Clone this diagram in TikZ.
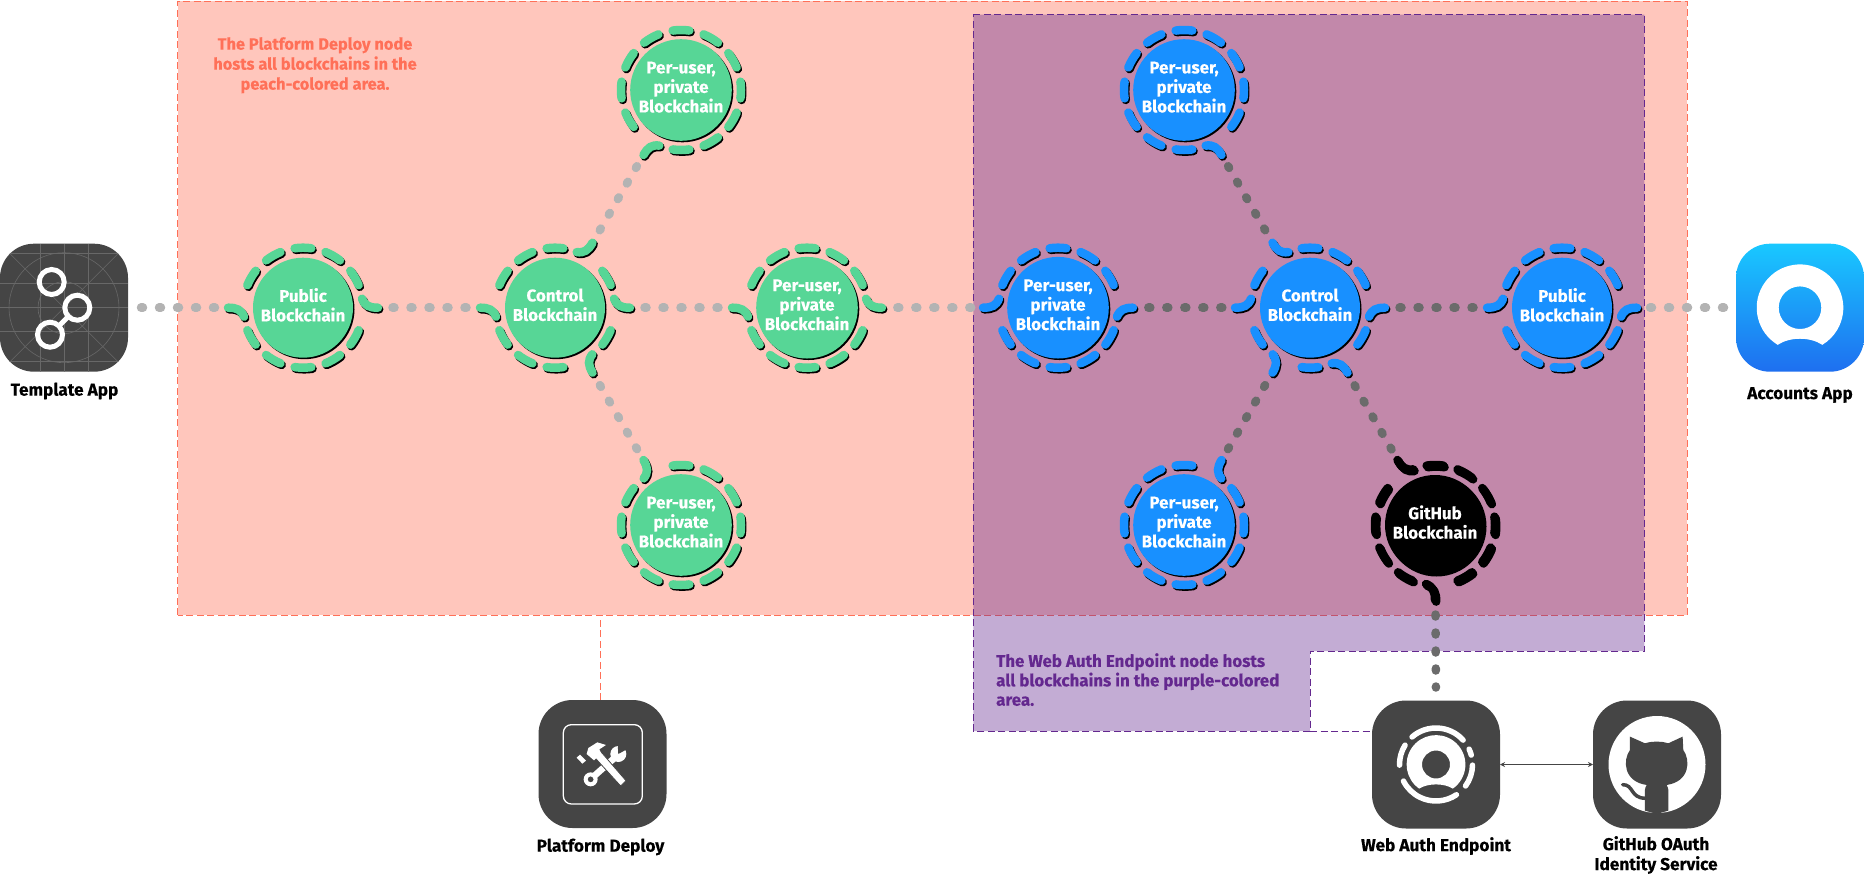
\documentclass[tikz,border=0pt]{standalone}
\usepackage{fontspec}
\setmainfont{Fira Sans}[BoldFont={Fira Sans Bold},BoldFeatures={FakeBold=0.3}]
\usetikzlibrary{shadows,arrows.meta}
\definecolor{peachc}{HTML}{FF7058}
\definecolor{purplec}{HTML}{64288F}
\definecolor{greenc}{HTML}{57D696}
\definecolor{bluec}{HTML}{1890FF}
\definecolor{iconc}{HTML}{454545}
\definecolor{lightdot}{HTML}{B3B3B3}
\definecolor{darkdot}{HTML}{6B6B6B}
\definecolor{gridc}{HTML}{686868}
\definecolor{accttop}{HTML}{19C8FF}
\definecolor{acctbot}{HTML}{1E6FF0}
\newcommand{\lblfont}{\bfseries\fontsize{17.2}{20}\selectfont}
\tikzset{
 chain/.style={circle,inner sep=0pt,outer sep=0pt,minimum size=100pt,text=white,align=center,
   text depth=6pt,
   font=\bfseries\fontsize{17}{19.5}\selectfont,
   drop shadow={shadow xshift=1.5pt,shadow yshift=-1.5pt,fill=black,opacity=1}},
 greenchain/.style={chain,fill=greenc},
 bluechain/.style={chain,fill=bluec},
 blackchain/.style={chain,fill=black},
 ringline/.style={line width=8.5pt,line cap=round},
 dotlink/.style={line width=8.5pt,line cap=round,dash pattern=on 2pt off 16pt,shorten <=39.5pt,shorten >=36pt},
 lightlink/.style={dotlink,draw=lightdot},
 darklink/.style={dotlink,draw=darkdot},
 appicon/.style={inner sep=0pt,outer sep=0pt,minimum size=128pt,rounded corners=34pt,fill=iconc},
 lbl/.style={font=\lblfont,align=center,text=black,inner sep=0pt},
 note/.style={font=\lblfont,inner sep=0pt},
 dashline/.style={line width=1pt,dash pattern=on 7pt off 3.5pt},
 gridline/.style={draw=gridc,line width=0.6pt},
}
\newcommand{\ringdash}[3]{%
 \begin{scope}[shift={(#1.center)}]
 \foreach \a in {#3}{
  \draw[ringline,black,xshift=1.2pt,yshift=-1.6pt] (\a-8:60pt) arc[start angle=\a-8,end angle=\a+8,radius=60pt];
  \draw[ringline,#2] (\a-8:60pt) arc[start angle=\a-8,end angle=\a+8,radius=60pt];
 }
 \end{scope}}
\newcommand{\ringhook}[4]{%
 \begin{scope}[shift={(#1.center)}]
 \foreach \a in {#4}{
  \draw[ringline,black,xshift=1.2pt,yshift=-1.6pt,rotate=\a] (59pt,{#3*9pt}) .. controls (62pt,{#3*2pt}) and (66pt,0pt) .. (75pt,0pt);
  \draw[ringline,#2,rotate=\a] (59pt,{#3*9pt}) .. controls (62pt,{#3*2pt}) and (66pt,0pt) .. (75pt,0pt);
 }
 \end{scope}}
\begin{document}
\begin{tikzpicture}[x=1pt,y=-1pt]
\useasboundingbox (0,0) rectangle (1864,876);
% areas
\node[inner sep=0pt,outer sep=0pt,minimum width=1509.5pt,minimum height=614pt,fill=peachc,fill opacity=0.4] (peach) at (932.25,308) {};
\draw[peachc,dashline] (peach.south west) rectangle (peach.north east);
\coordinate (pb) at (1310,731);
\fill[purplec,opacity=0.39] (973.4,14.6) -- (1644.4,14.6) -- (1644.4,651) -- (1310,651) -- (pb) -- (973.4,731) -- cycle;
\draw[purplec,dashline] (973.4,14.6) -- (1644.4,14.6) -- (1644.4,651) -- (1310,651) -- (pb) -- (973.4,731) -- cycle;
% notes
\node[note,text=peachc,align=center,anchor=north,font=\bfseries\fontsize{16.4}{20}\selectfont] (n1) at (315,37) {The Platform Deploy node\\hosts all blockchains in the\\peach-colored area.};
\node[note,text=purplec,align=left,anchor=north west,font=\bfseries\fontsize{16.9}{19.4}\selectfont] (n2) at (996,653) {The Web Auth Endpoint node hosts\\all blockchains in the purple-colored\\area.};
% icons
\node[appicon] (tmpl) at (64,307.7) {};
\node[appicon] (deploy) at (602.5,764) {};
\node[appicon] (webauth) at (1436,764.5) {};
\node[appicon] (ghub) at (1657,764.5) {};
\node[appicon,fill=none,top color=accttop,bottom color=acctbot] (acct) at (1800,307.7) {};
% chains
\node[greenchain] (g1) at (303,307.7) {Public\\Blockchain};
\node[greenchain] (g2) at (555,307.7) {Control\\Blockchain};
\node[greenchain] (g3) at (681,90) {Per-user,\\private\\Blockchain};
\node[greenchain] (g4) at (807,307.7) {Per-user,\\private\\Blockchain};
\node[greenchain] (g5) at (681,525) {Per-user,\\private\\Blockchain};
\node[bluechain] (b1) at (1058,307.7) {Per-user,\\private\\Blockchain};
\node[bluechain] (b2) at (1310,307.7) {Control\\Blockchain};
\node[bluechain] (b3) at (1562,307.7) {Public\\Blockchain};
\node[bluechain] (b4) at (1184,90) {Per-user,\\private\\Blockchain};
\node[bluechain] (b5) at (1184,525) {Per-user,\\private\\Blockchain};
\node[blackchain] (gh) at (1435,525) {GitHub\\Blockchain};
% connectors
\draw[lightlink,shorten <=13pt] (tmpl.east) -- (g1);
\draw[lightlink] (g1) -- (g2);
\draw[lightlink] (g2) -- (g3);
\draw[lightlink] (g2) -- (g4);
\draw[lightlink] (g2) -- (g5);
\draw[lightlink] (g4) -- (b1);
\draw[darklink] (b1) -- (b2);
\draw[darklink] (b2) -- (b3);
\draw[darklink] (b2) -- (b4);
\draw[darklink] (b2) -- (b5);
\draw[darklink] (b2) -- (gh);
\draw[lightlink,shorten <=38pt,shorten >=10pt] (b3) -- (acct.west);
\draw[darklink,shorten >=13pt] (gh) -- (webauth.north);
\draw[peachc,dashline] ([xshift=-2pt]deploy.north) -- ([xshift=-2pt]deploy.north |- peach.south);
\draw[purplec,dashline] (pb) -- (pb -| webauth.west);
\draw[{Stealth[length=5pt,width=5pt]}-{Stealth[length=5pt,width=5pt]},iconc,line width=1.2pt] (webauth.east) -- (ghub.west);
% rings
\ringdash{g1}{greenc}{30,60,90,120,150,210,240,270,300,330}
\ringhook{g1}{greenc}{1}{0,180}
\ringdash{g2}{greenc}{30,90,120,150,210,240,270,330}
\ringhook{g2}{greenc}{1}{0,60,180,300}
\ringdash{g3}{greenc}{0,30,60,90,120,150,180,210,270,300,330}
\ringhook{g3}{greenc}{1}{240}
\ringdash{g4}{greenc}{30,60,90,120,150,210,240,270,300,330}
\ringhook{g4}{greenc}{1}{0,180}
\ringdash{g5}{greenc}{0,30,60,90,150,180,210,240,270,300,330}
\ringhook{g5}{greenc}{1}{120}
\ringdash{b1}{bluec}{30,60,90,120,150,210,240,270,300,330}
\ringhook{b1}{bluec}{-1}{0,180}
\ringdash{b2}{bluec}{30,60,90,150,210,270,330}
\ringhook{b2}{bluec}{-1}{0,120,180,240,300}
\ringdash{b3}{bluec}{30,60,90,120,150,210,240,270,300,330}
\ringhook{b3}{bluec}{-1}{0,180}
\ringdash{b4}{bluec}{0,30,60,90,120,150,180,210,240,270,330}
\ringhook{b4}{bluec}{-1}{300}
\ringdash{b5}{bluec}{0,30,90,120,150,180,210,240,270,300,330}
\ringhook{b5}{bluec}{-1}{60}
\ringdash{gh}{black}{0,30,60,90,150,180,210,240,300,330}
\ringhook{gh}{black}{-1}{120,270}
% Template icon
\begin{scope}[shift={(tmpl.center)}]
 \clip[rounded corners=34pt] (-64pt,-64pt) rectangle (64pt,64pt);
 \foreach \v in {-24,0,24}{
  \draw[gridline] (\v pt,-64pt) -- (\v pt,64pt);
  \draw[gridline] (-64pt,\v pt) -- (64pt,\v pt);
 }
 \draw[gridline] (-64pt,54pt) -- (64pt,54pt);
 \draw[gridline] (-64pt,-54pt) -- (64pt,-54pt);
 \draw[gridline] (-64pt,-64pt) -- (64pt,64pt);
 \draw[gridline] (-64pt,64pt) -- (64pt,-64pt);
 \draw[gridline] (0pt,0pt) circle[radius=55pt];
 \draw[gridline] (0pt,0pt) circle[radius=26pt];
 \draw[white,line width=5pt] (-12.3pt,25.7pt) circle[radius=12.5pt];
 \draw[white,line width=5pt] (13.3pt,0pt) circle[radius=12.5pt];
 \draw[white,line width=5pt] (-14pt,-27pt) circle[radius=12.5pt];
 \draw[white,line width=5pt] (-5.1pt,-18.2pt) -- (4.4pt,-8.8pt);
\end{scope}
% Platform Deploy icon
\begin{scope}[shift={(520,680)},x=0.3333pt,y=-0.3333pt]
 \draw[white,line width=1.3pt,rounded corners=8pt] (130,134) rectangle (367,372);
 \draw[white,line width=6.5pt] (218,292) -- (288,230);
 \fill[white] (295,222) circle[radius=8pt];
 \fill[iconc] (295,222) -- (322,207) -- (318,190) -- (293,192) -- cycle;
 \fill[white,even odd rule] (212,298) circle[radius=7pt] (212,298) circle[radius=3pt];
 \fill[white,draw=iconc,line width=0.8pt] (222,230) -- (240,212) -- (318,302) -- (302,318) -- cycle;
 \fill[white] (205,204) -- (232,187) -- (258,195) -- (238,208) -- (243,219) -- (222,241) -- (200,222) -- cycle;
 \fill[white] (170,233) -- (180,224) -- (198,242) -- (187,251) -- cycle;
\end{scope}
% Accounts icon
\begin{scope}[shift={(acct.center)}]
 \fill[white,even odd rule] (239:43.3pt) arc[start angle=239,end angle=-59,radius=43.3pt]
   .. controls (10pt,-29pt) and (-10pt,-29pt) .. cycle
   (0pt,0pt) circle[radius=21.3pt];
\end{scope}
% Web Auth icon
\begin{scope}[shift={(webauth.center)}]
 \fill[white,even odd rule] (235:29.4pt) arc[start angle=235,end angle=-55,radius=29.4pt]
   .. controls (8pt,-18.5pt) and (-8pt,-18.5pt) .. cycle
   (0pt,0pt) circle[radius=14pt];
 \begin{scope}[white,line width=5.5pt,line cap=round]
  \draw (131:36.5pt) arc[start angle=131,end angle=42,radius=36.5pt];
  \draw (25:36.5pt) arc[start angle=25,end angle=15,radius=36.5pt];
  \draw (-1:36.5pt) arc[start angle=-1,end angle=-36,radius=36.5pt];
  \draw (-56:36.5pt) arc[start angle=-56,end angle=-153,radius=36.5pt];
  \draw (181:36.5pt) arc[start angle=181,end angle=148,radius=36.5pt];
 \end{scope}
\end{scope}
% GitHub icon
\fill[white] (ghub.center) circle[radius=48.5pt];
\begin{scope}[shift={(1300,440)},x=0.3333pt,y=-0.3333pt]
 \fill[iconc] (990,890) -- (1035,910) .. controls (1058,903) and (1082,903) .. (1105,910) -- (1148,890)
   -- (1150,930) .. controls (1172,960) and (1170,1025) .. (1100,1035)
   .. controls (1106,1045) and (1106,1055) .. (1105,1062) -- (1105,1112) -- (1070,1122) -- (1035,1112) -- (1035,1062)
   .. controls (1034,1055) and (1034,1045) .. (1040,1035)
   .. controls (970,1025) and (968,960) .. (990,930) -- cycle;
 \draw[iconc,line width=3.5pt,line cap=round] (968,1034) .. controls (1002,1034) and (990,1074) .. (1036,1075);
\end{scope}
% labels
\node[lbl] (l1) at (64.5,391) {Template App};
\node[lbl] (l2) at (600.5,847) {Platform Deploy};
\node[lbl] (l3) at (1436,846) {Web Auth Endpoint};
\node[lbl] (l4) at (1656,855) {GitHub OAuth\\Identity Service};
\node[lbl] (l5) at (1800,395) {Accounts App};
\end{tikzpicture}
\end{document}
